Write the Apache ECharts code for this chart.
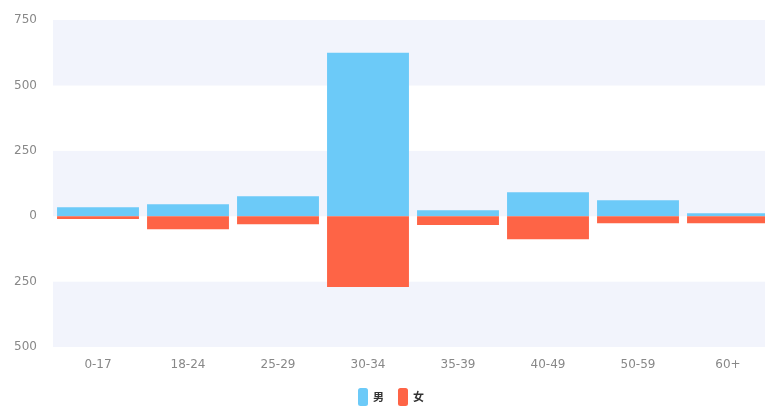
<!DOCTYPE html>
<html><head><meta charset="utf-8">
<script src="https://cdn.jsdelivr.net/npm/echarts@6/dist/echarts.min.js"></script>
<style>html,body{margin:0;padding:0;background:#fff}#c{width:765px;height:412px}</style>
</head><body><div id="c"></div>
<script>
const categories = ['0-17','18-24','25-29','30-34','35-39','40-49','50-59','60+'];
const male = [34, 46, 76, 625, 23, 92, 61, 11];
const female = [-11, -50, -31, -271, -34, -88, -27, -27];
const seriesNames = ['男', '女'];

const chart = echarts.init(document.getElementById('c'));
chart.setOption({
  animation: false,
  grid: { left: 53, width: 720, top: 20, bottom: 65, containLabel: false, outerBoundsMode: 'none' },
  legend: {
    bottom: 1, left: 353,
    itemWidth: 10, itemHeight: 18, itemGap: 14,
    textStyle: { color: '#333', fontSize: 11, fontFamily: 'Noto Sans CJK SC', fontWeight: 'bold' },
    data: seriesNames
  },
  xAxis: {
    type: 'category', data: categories,
    axisLine: { show: false }, axisTick: { show: false },
    axisLabel: { color: '#888', fontSize: 12, margin: 12, fontFamily: 'DejaVu Sans' }
  },
  yAxis: {
    type: 'value', min: -500, max: 750, interval: 250,
    axisLine: { show: false }, axisTick: { show: false },
    splitLine: { show: false },
    splitArea: { show: true, areaStyle: { color: ['#f2f4fc', '#ffffff'] } },
    axisLabel: { color: '#888', fontSize: 12, margin: 16, fontFamily: 'DejaVu Sans',
      formatter: v => String(Math.abs(v)) }
  },
  series: [
    { name: seriesNames[0], type: 'bar', stack: 'a', data: male, barCategoryGap: '9%', itemStyle: { color: '#6ccaf8' } },
    { name: seriesNames[1], type: 'bar', stack: 'a', data: female, barCategoryGap: '9%', itemStyle: { color: '#fe6446' } }
  ]
});
</script></body></html>
